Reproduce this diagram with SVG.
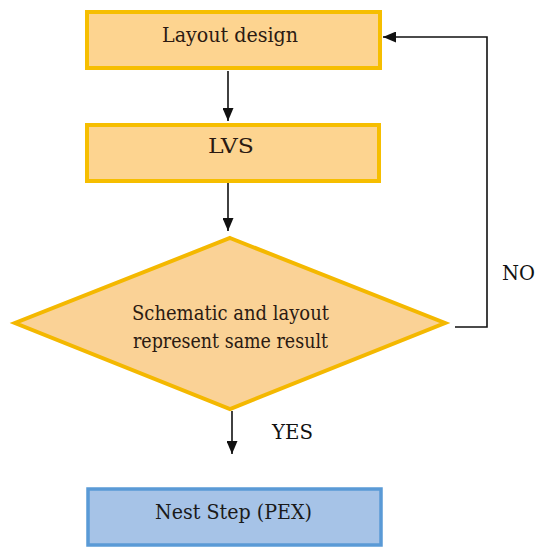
<svg xmlns="http://www.w3.org/2000/svg" width="538" height="549" viewBox="0 0 538 549">
  <style>
    .proc { fill: #FDD490; stroke: #F6BE00; stroke-width: 4; }
    .dec { fill: #FAD296; stroke: #F4B800; stroke-width: 4; stroke-linejoin: miter; }
    .end { fill: #A6C3E7; stroke: #5A9AD6; stroke-width: 3.5; }
    text { font-family: 'DejaVu Serif', serif; }
    .lbl { font-size: 21px; fill: #2B1A12; }
    .lbl2 { font-size: 21px; fill: #1A1A1A; }
    .tag { font-size: 20px; fill: #111; }
    .wire { fill: none; stroke: #111; stroke-width: 1.6; }
  </style>
  <defs>
    <marker id="head" viewBox="0 0 13 11" refX="13" refY="5.5" markerWidth="13" markerHeight="11" orient="auto" markerUnits="userSpaceOnUse">
      <path d="M0,0 L13,5.5 L0,11 z" fill="#111"/>
    </marker>
  </defs>
  <rect width="538" height="549" fill="#FFFFFF"/>

  <g id="layout-design">
    <rect class="proc" x="87" y="12" width="293" height="56"/>
    <text class="lbl" x="162" y="42" textLength="136" lengthAdjust="spacingAndGlyphs">Layout design</text>
  </g>

  <g id="lvs">
    <rect class="proc" x="87" y="125" width="292" height="56"/>
    <text class="lbl" x="208" y="153" textLength="46" lengthAdjust="spacingAndGlyphs">LVS</text>
  </g>

  <g id="compare">
    <polygon class="dec" points="230,238 445,323 230,409 15,323"/>
    <text class="lbl" x="132" y="320" textLength="197" lengthAdjust="spacingAndGlyphs">Schematic and layout</text>
    <text class="lbl" x="133" y="348" textLength="195" lengthAdjust="spacingAndGlyphs">represent same result</text>
  </g>

  <g id="next-step">
    <rect class="end" x="88" y="489" width="293" height="56"/>
    <text class="lbl2" x="155" y="519" textLength="157" lengthAdjust="spacingAndGlyphs">Nest Step (PEX)</text>
  </g>

  <g id="connectors">
    <line class="wire" x1="228" y1="71" x2="228" y2="121" marker-end="url(#head)"/>
    <line class="wire" x1="228" y1="183" x2="228" y2="231" marker-end="url(#head)"/>
    <line class="wire" x1="232" y1="411" x2="232" y2="454" marker-end="url(#head)"/>
    <polyline class="wire" points="455,327 487,327 487,37 383,37" marker-end="url(#head)"/>
    <text class="tag" x="272" y="439" textLength="41" lengthAdjust="spacingAndGlyphs">YES</text>
    <text class="tag" x="502" y="280" textLength="33" lengthAdjust="spacingAndGlyphs">NO</text>
  </g>
</svg>
